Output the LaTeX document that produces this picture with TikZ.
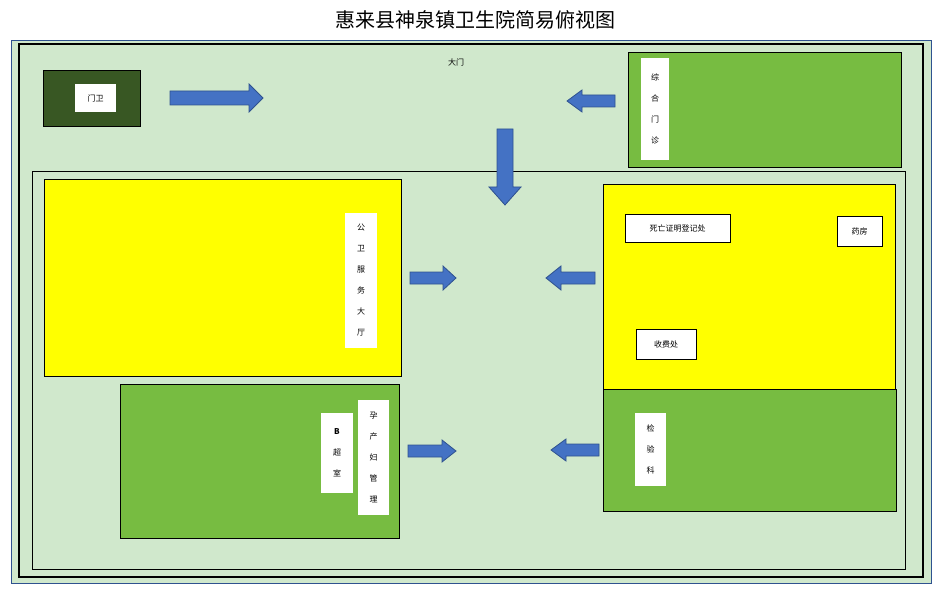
\documentclass[tikz,border=0pt]{standalone}
\usepackage{fontspec}
\setmainfont{Noto Sans CJK SC}
\begin{document}
\begin{tikzpicture}[x=1pt,y=-1pt,
  lbl/.style={fill=white,draw=black,line width=0.4pt,inner sep=0pt,font=\fontsize{8}{10}\selectfont},
  vlbl/.style={fill=white,inner sep=0pt,align=center,font=\fontsize{8}{21}\selectfont},
  arr/.style={fill=arrowblue,draw=arrowedge,line width=0.8pt}]
\definecolor{bg}{RGB}{208,232,204}
\definecolor{dkgreen}{RGB}{56,87,35}
\definecolor{gr}{RGB}{119,188,65}
\definecolor{yel}{RGB}{255,255,0}
\definecolor{arrowblue}{RGB}{68,114,196}
\definecolor{arrowedge}{RGB}{47,82,143}
\definecolor{frameblue}{RGB}{47,82,143}
\useasboundingbox (0,0) rectangle (943,591);
\newcommand{\rarr}[6]{\draw[arr] (#1,#3-#4) -- (#2-#6,#3-#4) -- (#2-#6,#3-#5) -- (#2,#3) -- (#2-#6,#3+#5) -- (#2-#6,#3+#4) -- (#1,#3+#4) -- cycle;}
\newcommand{\larr}[6]{\draw[arr] (#2,#3-#4) -- (#1+#6,#3-#4) -- (#1+#6,#3-#5) -- (#1,#3) -- (#1+#6,#3+#5) -- (#1+#6,#3+#4) -- (#2,#3+#4) -- cycle;}
\node (title) at (475,20) {\fontsize{20}{24}\selectfont 惠来县神泉镇卫生院简易俯视图};
\draw[frameblue,fill=bg,line width=1pt] (11,41) rectangle (931,583);
\draw[black,line width=1.6pt] (19,44) rectangle (923,577);
\draw[black,line width=0.6pt] (32,171) rectangle (905,569);
% gate guard
\draw[fill=dkgreen] (43,70) rectangle (140,126);
\node[fill=white,minimum width=41pt,minimum height=28pt,inner sep=0pt,font=\fontsize{8}{10}\selectfont] (guard) at (95.5,98) {门卫};
\rarr{170}{263}{98}{7}{14}{14}
\node[font=\fontsize{8}{10}\selectfont] (gate) at (456,62) {大门};
% outpatient
\draw[fill=gr] (628,52) rectangle (901,167);
\node[vlbl,minimum width=28pt,minimum height=102pt] (opd) at (655,109) {综\\合\\门\\诊};
\larr{567}{615}{101}{6}{11}{15}
\draw[arr] (497,129) -- (513,129) -- (513,187) -- (521,187) -- (505,205) -- (489,187) -- (497,187) -- cycle;
% public health hall
\draw[fill=yel] (44,179) rectangle (401,376);
\node[vlbl,minimum width=32pt,minimum height=135pt] (hall) at (361,280.5) {公\\卫\\服\\务\\大\\厅};
\rarr{410}{456}{278}{6}{12}{13}
\larr{546}{595}{278}{6}{12}{15}
% right yellow
\draw[fill=yel] (603,184) rectangle (895,389);
\node[lbl,minimum width=105pt,minimum height=28pt] (death) at (677.5,228) {死亡证明登记处};
\node[lbl,minimum width=45pt,minimum height=30pt] (pharm) at (859.5,231) {药房};
\node[lbl,minimum width=60pt,minimum height=30pt] (cash) at (666,344) {收费处};
% lab
\draw[fill=gr] (603,389) rectangle (896,511);
\node[vlbl,minimum width=31pt,minimum height=73pt] (lab) at (650.5,449.5) {检\\验\\科};
\larr{551}{599}{450}{6}{11}{15}
% left green
\draw[fill=gr] (120,384) rectangle (399,538);
\node[vlbl,minimum width=32pt,minimum height=80pt] (bus) at (337,453) {\textbf{B}\\超\\室};
\node[vlbl,minimum width=31pt,minimum height=115pt] (mat) at (373.5,457.5) {孕\\产\\妇\\管\\理};
\rarr{408}{456}{451}{6}{11}{14}
\end{tikzpicture}
\end{document}
